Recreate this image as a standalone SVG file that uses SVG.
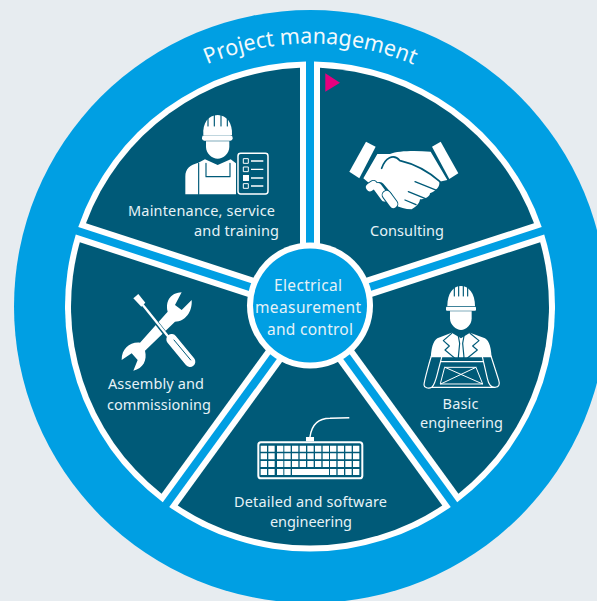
<svg xmlns="http://www.w3.org/2000/svg" xmlns:xlink="http://www.w3.org/1999/xlink" width="597" height="601" viewBox="0 0 597 601">
<style>
text{font-family:"Noto Sans","Open Sans","Liberation Sans",sans-serif;font-size:14.5px;fill:#e6f2f7}
.c{font-size:15.5px}
.w{fill:#fff}
.d{fill:none;stroke:#005a78;stroke-width:4;stroke-linecap:round;stroke-linejoin:round}
.o{fill:none;stroke:#fff;stroke-width:4.5;stroke-linecap:round;stroke-linejoin:round}
</style>
<defs>
<g id="wedge">
<path d="M4,-244.97A245,245 0 0 1 231.74,-79.5L4,-5.5Z" fill="#fff"/>
<path d="M10,-238.79A239,239 0 0 1 224,-83.3L10,-13.76Z" fill="#005a78"/>
</g>
<path id="arc" d="M207.2,64.4A263,263 0 0 1 417,66.2" fill="none"/>
</defs>
<rect width="597" height="601" fill="#e7ecf0"/>
<circle id="ring" cx="310.5" cy="306.5" r="296.5" fill="#009fe3"/>
<g id="project-management"><text style="font-size:22px;fill:#f2f9fc" textLength="212" lengthAdjust="spacingAndGlyphs"><textPath xlink:href="#arc" href="#arc">Project management</textPath></text></g>

<g id="consulting">
<use href="#wedge" transform="translate(310,306.5)"/>
<polygon points="325.3,73.3 325.3,91.7 340,82.7" fill="#e6007e"/>
<g transform="translate(340,130) scale(.3333)">
<polygon class="w" points="78,35 107,50 58,145 28,125"/>
<polygon class="w" points="302,35 355,130 328,147 276,50"/>
<path class="w" d="M112,72L150,72C175,62 225,62 272,65L322,150L298,155C300,170 290,180 270,190C270,200 255,208 240,208C238,222 228,230 215,238C195,238 180,232 165,225L70,145Z"/>
<path class="d" style="stroke-width:5" d="M125,115C135,85 160,68 180,92C215,100 260,120 300,155"/>
<path class="d" d="M225,155L292,182M205,185L262,208M195,210L228,224"/>
<g fill="#fff" stroke="#005a78" stroke-width="6" stroke-linecap="round">
<path d="M90,172L100,165" stroke-width="30" stroke="#005a78"/>
<path d="M118,172L142,200" stroke-width="32" stroke="#005a78"/>
<path d="M90,172L100,165" stroke-width="24" stroke="#fff"/>
<path d="M113,172L135,202" stroke-width="26" stroke="#fff"/>
<path d="M140,195L160,222" stroke-width="30" stroke="#005a78"/>
<path d="M140,195L160,222" stroke-width="24" stroke="#fff"/>
</g>
</g>
<text x="370" y="236" textLength="74">Consulting</text>
</g>

<g id="basic-engineering">
<use href="#wedge" transform="translate(310,306.5) rotate(72)"/>
<g transform="translate(400,270) scale(.3333)">
<path class="w" d="M142,108C142,70 160,48 183,48C206,48 225,70 225,108Z"/>
<rect class="w" x="138" y="110" width="90" height="12" rx="3"/>
<path class="d" d="M163,52V78M176,48V78M190,48V78M203,52V78" style="stroke-width:3.5"/>
<path class="w" d="M150,124H215V145C215,165 198,180 183,180C168,180 150,165 150,145Z"/>
<path class="w" d="M155,188L183,205L210,188L255,205C268,212 275,235 275,275H92C92,235 100,212 112,205Z"/>
<path class="d" style="stroke-width:3.5" d="M155,190L130,212L148,228L135,240L183,280L232,240L218,228L237,212L210,190M175,198H192L188,220L192,262L183,275L175,262L179,220Z"/>
<path fill="#005a78" d="M84,262H282V360H84Z"/>
<path class="o" style="stroke-width:3.5" d="M72,345C72,335 92,262 95,257C100,248 120,252 125,262L115,300C110,320 105,345 95,352C85,358 72,352 72,345ZM95,352H285C298,352 300,342 296,330L273,258C268,248 250,248 247,260L262,325C265,340 270,352 285,352M124,275H248"/>
<path class="o" style="stroke-width:3" d="M135,292H228L248,342H122ZM135,292L248,342M228,292L122,342"/>
</g>
<text x="442.5" y="409" textLength="36">Basic</text>
<text x="420" y="428" textLength="83">engineering</text>
</g>

<g id="detailed-engineering">
<use href="#wedge" transform="translate(310,306.5) rotate(144)"/>
<g transform="translate(230,400) scale(.3333)">
<rect x="85" y="127" width="312" height="108" rx="8" fill="none" stroke="#fff" stroke-width="6"/>
<rect class="w" x="228" y="111" width="24" height="13"/>
<path d="M240,111C245,75 265,55 300,55L358,53" fill="none" stroke="#fff" stroke-width="4.5"/>
<path class="w" d="M92,137h19v18h-19zM115,137h19v18h-19zM141,137h19v18h-19zM163,137h19v18h-19zM186,137h19v18h-19zM209,137h19v18h-19zM232,137h19v18h-19zM255,137h19v18h-19zM278,137h19v18h-19zM300,137h19v18h-19zM323,137h19v18h-19zM346,137h19v18h-19zM369,137h19v18h-19zM92,160h19v18h-19zM115,160h19v18h-19zM141,160h19v18h-19zM163,160h19v18h-19zM186,160h19v18h-19zM209,160h19v18h-19zM232,160h19v18h-19zM255,160h19v18h-19zM278,160h19v18h-19zM300,160h19v18h-19zM323,160h19v18h-19zM346,160h19v18h-19zM369,160h19v18h-19zM92,183h19v18h-19zM115,183h19v18h-19zM141,183h19v18h-19zM163,183h19v18h-19zM186,183h19v18h-19zM209,183h19v18h-19zM232,183h19v18h-19zM255,183h19v18h-19zM278,183h19v18h-19zM300,183h19v18h-19zM323,183h19v18h-19zM346,183h19v18h-19zM369,183h19v18h-19zM92,207h19v18h-19zM115,207h19v18h-19zM141,207h19v18h-19zM163,207h19v18h-19zM186,207h111v18h-111zM300,207h19v18h-19zM323,207h19v18h-19zM346,207h19v18h-19zM369,207h19v18h-19z"/>
</g>
<text x="234" y="506.7" textLength="153">Detailed and software</text>
<text x="270" y="526.7" textLength="82">engineering</text>
</g>

<g id="assembly">
<use href="#wedge" transform="translate(310,306.5) rotate(216)"/>
<g transform="translate(100,280) scale(.3333)">
<path class="w" d="M245,37C215,38 195,60 203,95L120,188C90,185 65,205 65,240L95,220L113,240L100,272C130,265 142,240 135,212L225,125C255,125 278,95 275,60L245,90L225,75Z"/>
<path d="M115,60L195,160" fill="none" stroke="#005a78" stroke-width="13"/>
<path d="M215,178L270,245" fill="none" stroke="#005a78" stroke-width="40" stroke-linecap="round"/>
<polygon class="w" points="100,55 115,42 136,68 124,80"/>
<path d="M128,74L205,170" fill="none" stroke="#fff" stroke-width="7"/>
<path d="M215,178L270,245" fill="none" stroke="#fff" stroke-width="32" stroke-linecap="round"/>
<path class="d" style="stroke-width:3" d="M222,180L272,240"/>
</g>
<text x="108" y="389" textLength="96">Assembly and</text>
<text x="107" y="410" textLength="104">commissioning</text>
</g>

<g id="maintenance">
<use href="#wedge" transform="translate(310,306.5) rotate(288)"/>
<g transform="translate(170,0) scale(.3333)">
<path class="w" d="M100,405C97,370 115,345 143,345C170,345 188,370 186,405Z"/>
<rect class="w" x="96" y="406" width="92" height="16" rx="7"/>
<path class="d" style="stroke-width:3.5" d="M114,348V378M133,345V378M153,345V378M172,348V378"/>
<path class="w" d="M108,424H178V440C178,460 160,476 143,476C126,476 108,460 108,440Z"/>
<path class="w" d="M105,478L143,495L182,478L198,490V583H46V530C46,505 60,495 85,488Z"/>
<path class="d" style="stroke-width:3.5" d="M86,490V583M108,490V530H180V490"/>
<rect x="204" y="460" width="90" height="122" rx="8" fill="none" stroke="#fff" stroke-width="4.5"/>
<path d="M220,476h15v14h-15zM220,501h15v14h-15zM220,551h15v14h-15z" fill="none" stroke="#fff" stroke-width="3"/>
<rect class="w" x="219" y="525" width="18" height="18"/>
<path d="M243,483h37M243,508h37M243,534h37M243,558h37" fill="none" stroke="#fff" stroke-width="4"/>
</g>
<text x="128" y="216" textLength="147">Maintenance, service</text>
<text x="194" y="235.5" textLength="85">and training</text>
</g>

<g id="electrical">
<circle cx="310" cy="305.5" r="63" fill="#fff"/>
<circle cx="310" cy="305.5" r="57" fill="#009fe3"/>
<text class="c" x="274" y="291" textLength="68">Electrical</text>
<text class="c" x="255" y="312.7" textLength="106">measurement</text>
<text class="c" x="267" y="334.7" textLength="86">and control</text>
</g>
</svg>
